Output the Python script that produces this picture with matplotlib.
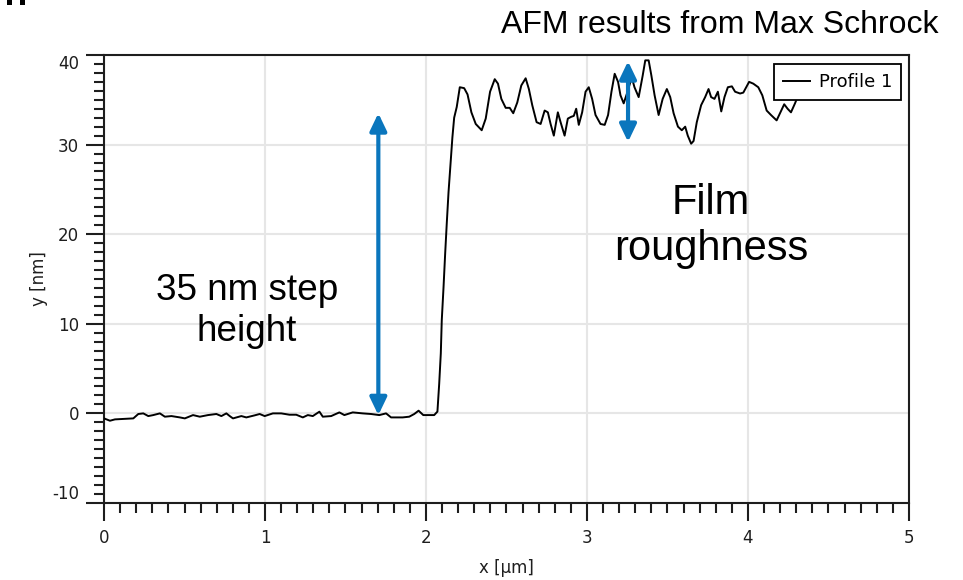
import matplotlib
matplotlib.use("Agg")
import matplotlib.pyplot as plt
from matplotlib.patches import Rectangle
from matplotlib.ticker import MultipleLocator

plt.rcParams["axes.unicode_minus"] = False

# AFM line profile (x in um, y in nm)
x_um = [0.000, 0.037, 0.068, 0.182, 0.213, 0.244, 0.275, 0.306, 0.347, 0.378,
        0.419, 0.471, 0.502, 0.553, 0.595, 0.646, 0.698, 0.729, 0.760, 0.781,
        0.801, 0.853, 0.884, 0.936, 0.967, 0.998, 1.049, 1.101, 1.152, 1.194,
        1.235, 1.266, 1.297, 1.338, 1.359, 1.411, 1.462, 1.493, 1.545, 1.607,
        1.659, 1.710, 1.752, 1.783, 1.855, 1.896, 1.927, 1.954, 1.983, 2.051,
        2.071, 2.082, 2.092, 2.098, 2.109, 2.119, 2.129, 2.140, 2.154, 2.164,
        2.175, 2.191, 2.210, 2.237, 2.258, 2.282, 2.309, 2.346, 2.371, 2.398,
        2.427, 2.447, 2.468, 2.495, 2.520, 2.542, 2.567, 2.592, 2.619, 2.639,
        2.660, 2.687, 2.712, 2.737, 2.757, 2.774, 2.794, 2.819, 2.836, 2.861,
        2.881, 2.902, 2.918, 2.933, 2.949, 2.970, 2.991, 3.011, 3.032, 3.053,
        3.084, 3.110, 3.131, 3.152, 3.172, 3.193, 3.208, 3.228, 3.250, 3.278,
        3.295, 3.321, 3.346, 3.362, 3.383, 3.400, 3.420, 3.445, 3.470, 3.496,
        3.517, 3.538, 3.565, 3.589, 3.610, 3.626, 3.647, 3.662, 3.682, 3.709,
        3.734, 3.755, 3.771, 3.792, 3.813, 3.834, 3.854, 3.875, 3.900, 3.920,
        3.951, 3.971, 4.007, 4.033, 4.064, 4.089, 4.116, 4.143, 4.178, 4.199,
        4.225, 4.246, 4.267, 4.292, 4.308, 4.335]
y_nm = [-0.56, -0.82, -0.67, -0.56, -0.07, 0.00, -0.30, -0.19, 0.00, -0.37,
        -0.30, -0.45, -0.56, -0.19, -0.37, -0.19, -0.07, -0.30, 0.00, -0.30,
        -0.56, -0.30, -0.45, -0.22, -0.07, -0.30, 0.00, 0.00, -0.15, -0.15,
        -0.45, -0.19, -0.30, 0.19, -0.37, -0.30, 0.11, -0.19, 0.11, 0.00,
        -0.07, -0.19, 0.00, -0.45, -0.45, -0.37, -0.07, 0.30, -0.19, -0.19,
        0.2, 3.3, 6.7, 10.4, 14.1, 17.8, 21.2, 24.7, 28.3, 30.8,
        33.0, 34.2, 36.4, 36.3, 35.6, 33.6, 32.3, 31.6, 32.9, 35.9,
        37.3, 36.8, 35.1, 34.1, 34.1, 33.5, 34.7, 36.6, 37.4, 36.2,
        34.4, 32.5, 32.3, 33.8, 33.6, 32.3, 31.0, 33.6, 32.5, 31.0,
        32.9, 33.1, 33.2, 34.0, 32.2, 33.6, 35.9, 36.4, 35.1, 33.3,
        32.3, 32.2, 33.3, 35.9, 37.9, 37.0, 35.5, 34.6, 35.8, 37.5,
        36.4, 35.3, 37.7, 39.4, 39.4, 37.7, 35.5, 33.3, 35.1, 36.2,
        35.3, 33.5, 32.0, 31.6, 32.0, 31.0, 30.1, 30.4, 32.5, 34.4,
        35.3, 36.2, 35.3, 35.1, 35.9, 33.7, 35.3, 36.4, 36.5, 35.9,
        35.7, 35.8, 37.0, 36.8, 36.4, 35.5, 33.8, 33.3, 32.7, 33.5,
        34.5, 34.0, 33.6, 34.6, 35.3, 36.5]

# annotation arrows: (x, y_start, y_end)
step_arrow = (1.704, -0.2, 33.5)
rough_arrow = (3.255, 30.3, 39.3)

x_ticks = [0, 1, 2, 3, 4, 5]
y_ticks = [-10, 0, 10, 20, 30, 40]

blue = "#0a76bd"
ink = "#1e1e1e"

fig = plt.figure(figsize=(9.63, 5.80), dpi=100)
ax = fig.add_axes([0.108, 0.1328, 0.8359, 0.7724])

ax.plot(x_um, y_nm, color="black", lw=1.4, label="Profile 1", zorder=3)

ax.set_xlim(0, 5)
ax.set_ylim(-10, 40)
ax.set_xticks(x_ticks)
ax.set_yticks(y_ticks)
ax.xaxis.set_minor_locator(MultipleLocator(0.1))
ax.yaxis.set_minor_locator(MultipleLocator(1))
ax.tick_params(which="major", direction="out", length=13, width=1.5,
               color=ink, labelsize=12, labelcolor=ink)
ax.tick_params(which="minor", direction="out", length=7.5, width=1.5, color=ink)
ax.tick_params(axis="x", which="major", pad=6)
ax.tick_params(axis="y", which="major", pad=5)
ax.grid(True, which="major", color="#e6e6e6", lw=1.5, zorder=0)
for sp in ax.spines.values():
    sp.set_linewidth(1.5)
    sp.set_color(ink)

# keep the end labels inside the axis like the original
ylabels = ax.get_yticklabels()
ylabels[0].set_va("bottom")
ylabels[-1].set_va("top")

ax.set_xlabel("x [µm]", fontsize=12, color=ink, va="center")
ax.xaxis.set_label_coords(0.5, -0.145)
ax.set_ylabel("y [nm]", fontsize=12, color=ink, va="center", ha="center")
ax.yaxis.set_label_coords(-0.081, 0.5)

leg = ax.legend(loc="upper right", bbox_to_anchor=(0.99, 0.98), borderaxespad=0,
                fontsize=13, fancybox=False, framealpha=1, edgecolor="black",
                handlelength=1.5, handletextpad=0.45, borderpad=0.5)
leg.get_frame().set_linewidth(1.3)
leg.set_zorder(5)

for xa, y0, y1 in [step_arrow, rough_arrow]:
    ax.annotate("", xy=(xa, y0), xytext=(xa, y1),
                arrowprops=dict(arrowstyle="<|-|>,head_length=0.75,head_width=0.36",
                                mutation_scale=14, color=blue, lw=3,
                                shrinkA=0, shrinkB=0), zorder=4)

big = "Liberation Sans"
fig.text(938 / 963, 1 - 33 / 580, "AFM results from Max Schrock", family=big,
         fontsize=23, ha="right", va="baseline")
# multi-line baseline alignment uses the last line
fig.text(711 / 963, 1 - 260 / 580, "Film\nroughness", family=big, fontsize=30,
         ha="center", va="baseline", multialignment="center", linespacing=1.2)
fig.text(247 / 963, 1 - 340.7 / 580, "35 nm step\nheight", family=big, fontsize=26.6,
         ha="center", va="baseline", multialignment="center", linespacing=1.22)

# bottom of a cropped slide-title glyph in the top-left corner
for left in (7, 20):
    fig.add_artist(Rectangle((left / 963, 1 - 5 / 580), 5 / 963, 5 / 580,
                             transform=fig.transFigure, color="black", lw=0))

fig.savefig("out.png", dpi=100)
